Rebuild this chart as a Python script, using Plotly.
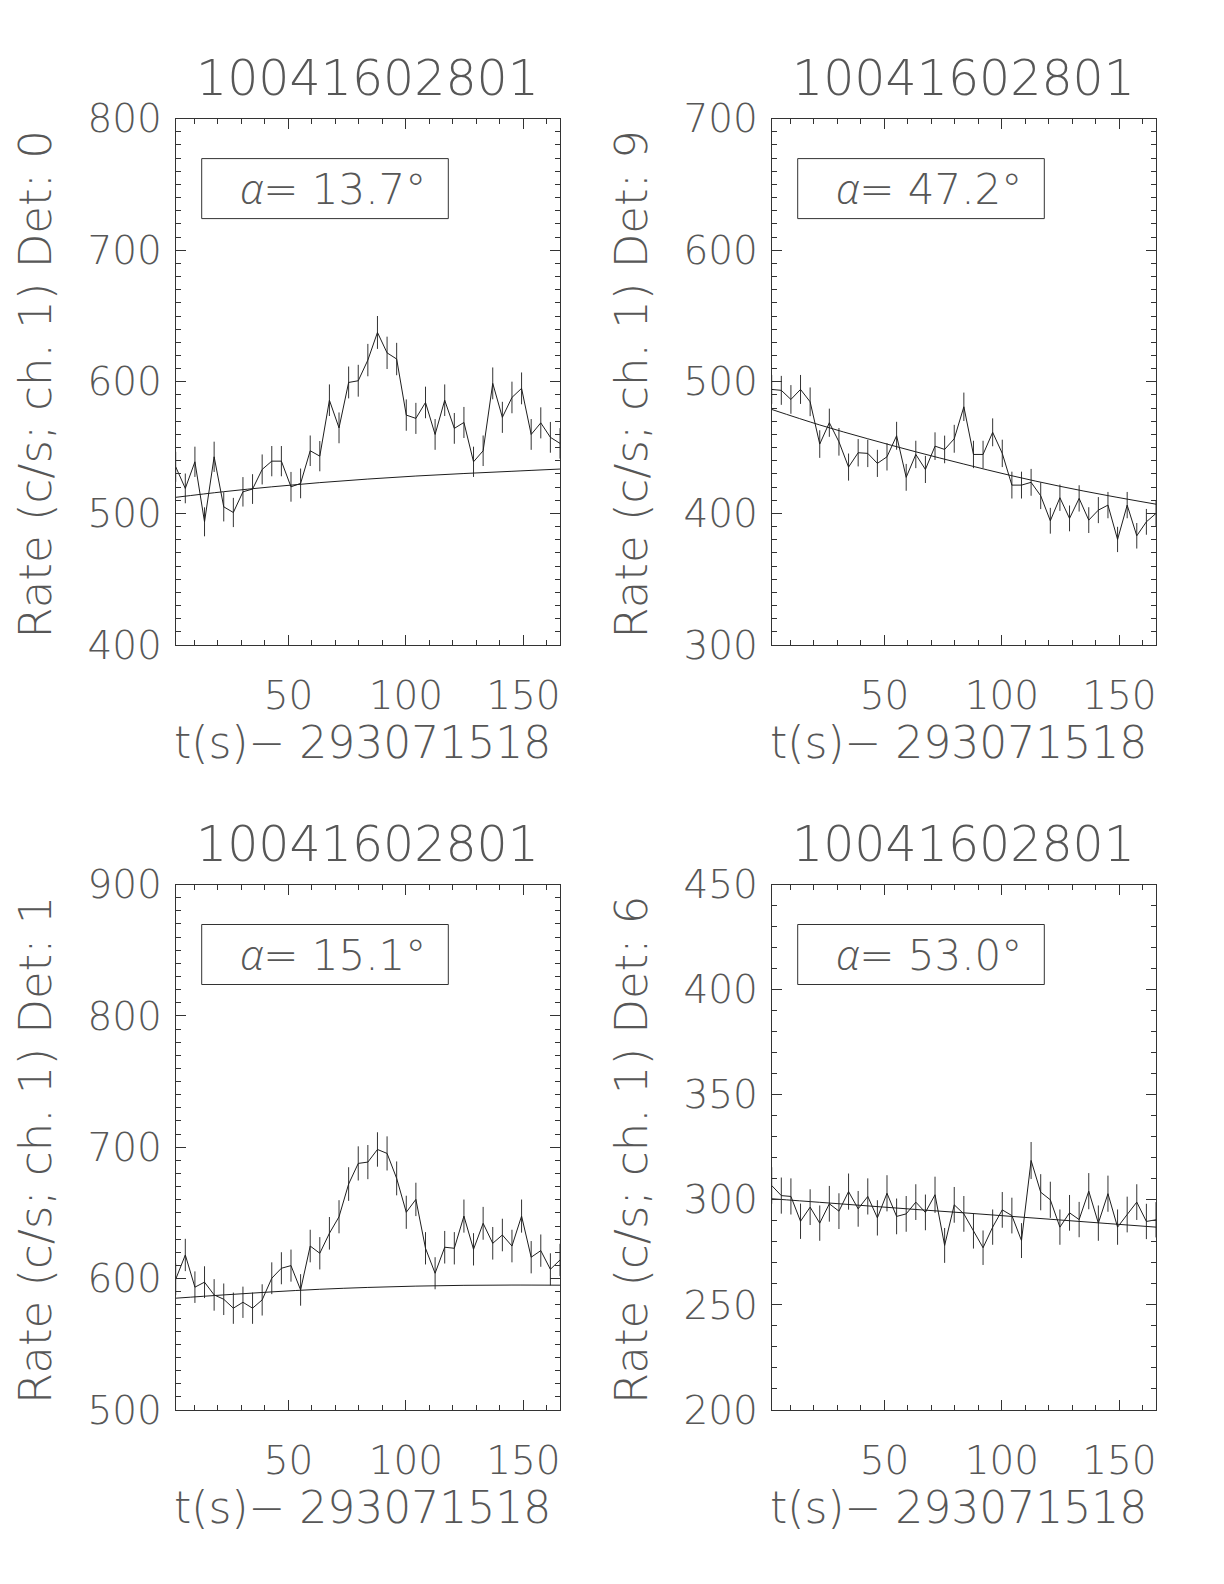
import plotly.graph_objects as go

# ---------------- data ----------------
obsid = "10041602801"
t_offset = "293071518"

t = [2.00, 6.09, 10.18, 14.27, 18.36, 22.45, 26.54, 30.63, 34.72, 38.81,
     42.90, 46.99, 51.08, 55.17, 59.26, 63.35, 67.44, 71.53, 75.62, 79.71,
     83.80, 87.89, 91.98, 96.07, 100.16, 104.25, 108.34, 112.43, 116.52, 120.61,
     124.70, 128.79, 132.88, 136.97, 141.06, 145.15, 149.24, 153.33, 157.42, 161.51,
     165.60]

t_fit = [2.00, 22.45, 42.90, 63.35, 83.80, 104.25, 124.70, 145.15, 165.60]

det_ids = ["0", "9", "1", "6"]
alphas = ["13.7", "47.2", "15.1", "53.0"]

rate_det0 = [535.4, 519.0, 539.2, 493.6, 543.0, 505.0, 500.7, 516.4, 518.5, 533.4,
             539.7, 539.7, 520.2, 522.8, 547.6, 543.5, 586.0, 565.0, 599.5, 600.8,
             616.5, 637.5, 622.0, 617.3, 574.7, 572.2, 584.3, 560.0, 586.0, 564.6,
             569.1, 539.2, 547.6, 598.8, 573.0, 588.1, 595.0, 560.0, 568.8, 557.8,
             553.2]
err_det0 = [11.4, 11.3, 11.5, 11.0, 11.5, 11.1, 11.1, 11.2, 11.3, 11.4,
            11.5, 11.5, 11.3, 11.3, 11.6, 11.5, 12.0, 11.7, 12.1, 12.1,
            12.3, 12.5, 12.3, 12.3, 11.9, 11.8, 12.0, 11.7, 12.0, 11.7,
            11.8, 11.5, 11.6, 12.1, 11.8, 12.0, 12.1, 11.7, 11.8, 11.7,
            11.6]
fit_det0 = [512.2, 516.5, 520.2, 523.4, 526.1, 528.4, 530.3, 532.0, 533.7]

rate_det9 = [494.2, 493.5, 486.6, 494.2, 484.8, 452.7, 468.9, 454.4, 435.2, 446.1,
             445.6, 438.0, 443.0, 459.0, 427.4, 444.8, 433.4, 451.1, 448.6, 456.7,
             481.0, 444.8, 444.8, 461.6, 445.6, 421.5, 421.5, 423.6, 413.4, 394.4,
             411.9, 396.2, 411.4, 394.9, 402.5, 406.3, 380.2, 406.3, 383.0, 393.6,
             400.0]
err_det9 = [11.0, 11.0, 10.9, 11.0, 10.9, 10.5, 10.7, 10.5, 10.3, 10.4,
            10.4, 10.3, 10.4, 10.6, 10.2, 10.4, 10.3, 10.5, 10.5, 10.6,
            10.8, 10.4, 10.4, 10.6, 10.4, 10.2, 10.2, 10.2, 10.1, 9.8,
            10.0, 9.8, 10.0, 9.8, 9.9, 10.0, 9.6, 10.0, 9.7, 9.8,
            9.9]
fit_det9 = [479.0, 467.2, 456.7, 446.8, 437.5, 428.6, 420.6, 413.5, 407.0]

rate_det1 = [599.5, 618.0, 593.5, 597.3, 587.6, 584.3, 577.5, 582.0, 577.5, 583.8,
             600.3, 607.9, 609.9, 591.4, 624.8, 619.3, 634.5, 647.1, 672.0, 687.7,
             688.7, 698.3, 695.3, 676.3, 650.5, 660.3, 623.1, 604.1, 623.9, 623.1,
             647.6, 622.3, 642.1, 626.9, 633.2, 624.8, 647.6, 616.3, 621.3, 607.1,
             614.2]
err_det1 = [12.1, 12.3, 12.0, 12.1, 12.0, 12.0, 11.9, 11.9, 11.9, 11.9,
            12.1, 12.2, 12.2, 12.0, 12.4, 12.3, 12.4, 12.6, 12.8, 13.0,
            13.0, 13.1, 13.0, 12.9, 12.6, 12.7, 12.3, 12.2, 12.4, 12.3,
            12.6, 12.3, 12.5, 12.4, 12.4, 12.4, 12.6, 12.3, 12.3, 12.2,
            12.3]
fit_det1 = [585.1, 587.6, 589.9, 591.9, 593.3, 594.3, 594.9, 595.1, 595.0]

rate_det6 = [306.8, 302.0, 301.6, 289.8, 296.5, 288.9, 298.1, 294.6, 303.9, 295.7,
             301.6, 291.4, 303.1, 292.1, 293.3, 298.9, 294.0, 302.4, 278.3, 297.6,
             293.3, 285.1, 277.2, 287.0, 295.2, 292.5, 280.6, 318.7, 303.6, 300.0,
             287.0, 293.8, 290.6, 304.1, 288.9, 302.9, 287.0, 293.0, 298.9, 289.7,
             290.5]
err_det6 = [8.7, 8.6, 8.6, 8.4, 8.5, 8.4, 8.5, 8.5, 8.6, 8.5,
            8.6, 8.4, 8.6, 8.5, 8.5, 8.5, 8.5, 8.6, 8.3, 8.5,
            8.5, 8.3, 8.2, 8.4, 8.5, 8.5, 8.3, 8.8, 8.6, 8.6,
            8.4, 8.5, 8.4, 8.6, 8.4, 8.6, 8.4, 8.5, 8.5, 8.4,
            8.4]
fit_det6 = [300.5, 298.8, 297.1, 295.4, 293.8, 292.1, 290.4, 288.7, 287.0]

rates = [rate_det0, rate_det9, rate_det1, rate_det6]
errs = [err_det0, err_det9, err_det1, err_det6]
fits = [fit_det0, fit_det9, fit_det1, fit_det6]

y_ranges = [[400, 800], [300, 700], [500, 900], [200, 450]]
y_dticks = [100, 100, 100, 50]
x_range = [2.0, 165.6]

# ---------------- layout geometry (pixels) ----------------
W, H = 1224, 1584
col_left = [175.7, 771.7, 175.7, 771.7]
col_right = [560.0, 1156.0, 560.0, 1156.0]
row_top = [118.6, 118.6, 884.5, 884.5]
row_bot = [645.0, 645.0, 1410.0, 1410.0]

INK = "#1e1e1e"
TXT = "#575757"
FONT = "DejaVu Sans"
WEIGHT = 200
TICK_SIZE = 39


def fnt(size):
    return dict(family=FONT, size=size, color=TXT, weight=WEIGHT)


fig = go.Figure()
annotations = []
shapes = []
layout = {}

for i in range(4):
    n = "" if i == 0 else str(i + 1)
    xa, ya = "x" + n, "y" + n
    fig.add_trace(go.Scatter(
        x=t, y=rates[i], mode="lines", xaxis=xa, yaxis=ya,
        line=dict(color=INK, width=1),
        error_y=dict(type="data", array=errs[i], visible=True,
                     color="#333333", thickness=1, width=0),
        showlegend=False, hoverinfo="skip"))
    fig.add_trace(go.Scatter(
        x=t_fit, y=fits[i], mode="lines", xaxis=xa, yaxis=ya,
        line=dict(color=INK, width=1, shape="spline", smoothing=1.0),
        showlegend=False, hoverinfo="skip"))

    xd = [col_left[i] / W, col_right[i] / W]
    yd = [1 - row_bot[i] / H, 1 - row_top[i] / H]
    common = dict(showline=True, linecolor="#333333", linewidth=1, mirror="ticks",
                  ticks="inside", ticklen=10, tickcolor="#333333", tickwidth=1,
                  showgrid=False, zeroline=False, automargin=False,
                  tickfont=fnt(TICK_SIZE))
    layout["xaxis" + n] = dict(common, domain=xd, anchor=ya, range=x_range,
                               tick0=0, dtick=50, ticklabelstandoff=16,
                               minor=dict(ticks="inside", ticklen=5, dtick=10, tick0=0,
                                          tickcolor="#333333", tickwidth=1, showgrid=False))
    layout["yaxis" + n] = dict(common, domain=yd, anchor=xa, range=y_ranges[i],
                               tick0=0, dtick=y_dticks[i], ticklabelstandoff=5,
                               minor=dict(ticks="inside", ticklen=5, dtick=10, tick0=0,
                                          tickcolor="#333333", tickwidth=1, showgrid=False))

    cx = (col_left[i] + col_right[i]) / 2
    cy = (row_top[i] + row_bot[i]) / 2
    # title
    annotations.append(dict(text=obsid, x=cx / W, y=1 - (row_top[i] - 40) / H,
                            xref="paper", yref="paper", xanchor="center", yanchor="middle",
                            showarrow=False, font=fnt(49)))
    # y title
    annotations.append(dict(text="Rate (c/s; ch. 1) Det: " + det_ids[i],
                            x=(col_left[i] - 140) / W, y=1 - (cy + 3) / H,
                            xref="paper", yref="paper", xanchor="center", yanchor="middle",
                            textangle=-90, showarrow=False, font=fnt(45)))
    # x title
    annotations.append(dict(text="t(s)\u2212 " + t_offset, x=(cx - 5) / W,
                            y=1 - (row_bot[i] + 97) / H,
                            xref="paper", yref="paper", xanchor="center", yanchor="middle",
                            showarrow=False, font=fnt(44)))
    # alpha box
    pw = col_right[i] - col_left[i]
    ph = row_bot[i] - row_top[i]
    shapes.append(dict(type="rect", xref=xa + " domain", yref=ya + " domain",
                       x0=26 / pw, x1=272.6 / pw, y0=1 - 100 / ph, y1=1 - 40 / ph,
                       line=dict(color="#333333", width=1), fillcolor="rgba(0,0,0,0)"))
    annotations.append(dict(
        text="<span style=\"font-family:'Open Sans';font-weight:300;font-style:italic\">\u03b1</span>= "
             + alphas[i] + "\u00b0",
        xref=xa + " domain", yref=ya + " domain",
        x=62 / pw, y=1 - 69 / ph, xanchor="left", yanchor="middle",
        showarrow=False, font=fnt(42)))

fig.update_layout(**layout)
fig.update_layout(width=W, height=H, margin=dict(l=0, r=0, t=0, b=0, autoexpand=False),
                  paper_bgcolor="white", plot_bgcolor="white",
                  annotations=annotations, shapes=shapes, showlegend=False)

fig.write_html("out.html", config={"displayModeBar": False},
               post_script="document.body.style.margin='0';")
